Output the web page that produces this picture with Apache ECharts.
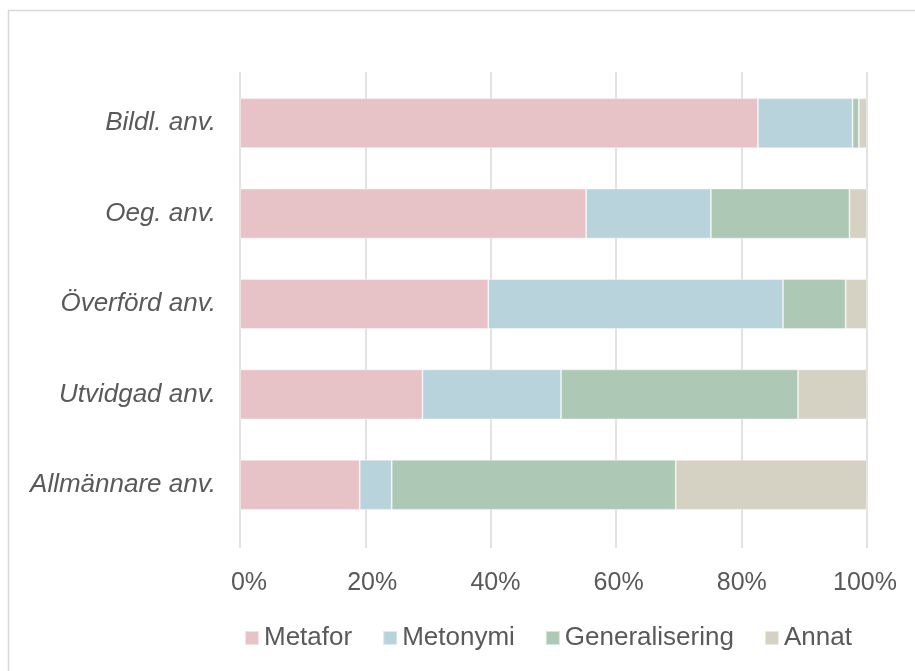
<!DOCTYPE html>
<html>
<head>
<meta charset="utf-8">
<script src="https://cdn.jsdelivr.net/npm/echarts@6/dist/echarts.min.js"></script>
<style>
html,body{margin:0;padding:0;background:#fff;}
#c{width:915px;height:671px;}
</style>
</head>
<body>
<div id="c"></div>
<script>
var categories = ['Bildl. anv.', 'Oeg. anv.', 'Överförd anv.', 'Utvidgad anv.', 'Allmännare anv.'];
var seriesNames = ['Metafor', 'Metonymi', 'Generalisering', 'Annat'];
var metafor = [82.6, 55.2, 39.6, 29.1, 19.1];
var metonymi = [15.1, 19.9, 47.0, 22.1, 5.1];
var generalisering = [1.0, 22.1, 10.0, 37.8, 45.3];
var annat = [1.3, 2.8, 3.4, 11.0, 30.5];
var tickValues = [0, 20, 40, 60, 80, 100];

var colors = ['#E7C3C7', '#B9D3DD', '#ADC9B6', '#D6D2C3'];
var values = [metafor, metonymi, generalisering, annat];
var textColor = '#595959';
var font = '"Liberation Sans", Arial, sans-serif';

var chart = echarts.init(document.getElementById('c'), null, {renderer: 'canvas'});
var option = {
  animation: false,
  backgroundColor: '#fff',
  graphic: [{
    type: 'rect',
    shape: {x: 8.5, y: 10.5, width: 1000, height: 800},
    style: {fill: 'none', stroke: '#d9d9d9', lineWidth: 1.5},
    silent: true
  }],
  grid: [
    {left: 240, width: 627, top: 78, height: 452, containLabel: false},
    {left: 240, width: 627, top: 72, height: 476, containLabel: false},
    {left: 249, width: 616, top: 72, height: 476, containLabel: false}
  ],
  xAxis: [
    {gridIndex: 0, type: 'value', min: 0, max: 100, show: false},
    {gridIndex: 1, type: 'value', min: 0, max: 100, interval: 20,
      axisLine: {show: false}, axisTick: {show: false}, axisLabel: {show: false},
      splitLine: {show: true, lineStyle: {color: '#d9d9d9', width: 1.5}}},
    {gridIndex: 2, type: 'value', min: 0, max: 100, interval: 20,
      axisLine: {show: false}, axisTick: {show: false}, splitLine: {show: false},
      axisLabel: {show: true, margin: 23, color: textColor, fontFamily: font, fontSize: 25,
        formatter: function (v) { return tickValues.indexOf(v) >= 0 ? v + '%' : ''; }}}
  ],
  yAxis: [
    {gridIndex: 0, type: 'category', data: categories, inverse: true,
      axisLine: {show: false}, axisTick: {show: false}, splitLine: {show: false},
      axisLabel: {margin: 24, color: textColor, fontFamily: font, fontSize: 26, fontStyle: 'italic'}},
    {gridIndex: 1, type: 'value', min: 0, max: 1, show: false},
    {gridIndex: 2, type: 'value', min: 0, max: 1, show: false}
  ],
  legend: {
    left: 244, top: 625, padding: 0,
    itemWidth: 14, itemHeight: 14, itemGap: 30,
    icon: 'rect',
    textStyle: {color: textColor, fontFamily: font, fontSize: 26},
    data: seriesNames
  },
  series: seriesNames.map(function (name, i) {
    return {
      name: name,
      type: 'bar',
      stack: 'total',
      xAxisIndex: 0,
      yAxisIndex: 0,
      barWidth: 50,
      data: values[i],
      itemStyle: {color: colors[i], borderColor: 'rgba(255,255,255,0.5)', borderWidth: 0.8},
      emphasis: {disabled: true}
    };
  })
};
chart.setOption(option);
</script>
</body>
</html>
